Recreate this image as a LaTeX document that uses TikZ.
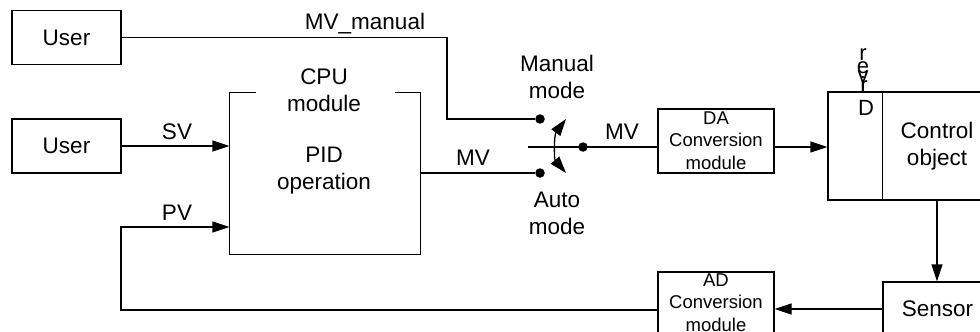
\documentclass[tikz,border=0pt]{standalone}
\usepackage{fontspec}
\setmainfont{Liberation Sans}
\usetikzlibrary{arrows.meta,calc}
\begin{document}
\begin{tikzpicture}[x=1pt,y=-1pt,
  line width=1.3pt,
  every node/.style={font=\fontsize{22.5}{27}\selectfont, align=center, inner sep=0pt},
  box/.style={draw, line width=1.3pt},
  arr/.style={-{Triangle[length=17pt,width=11pt]}},
  swarr/.style={{Triangle[length=17pt,width=11pt]}-{Triangle[length=17pt,width=11pt]}},
  dot/.style={circle, fill, minimum size=9.5pt, inner sep=0pt},
  small/.style={font=\fontsize{18.5}{22.5}\selectfont},
  letter/.style={anchor=base, font=\fontsize{22}{22}\selectfont}]
\useasboundingbox (0,0) rectangle (980,332);
\clip (0,0) rectangle (980,332);

% boxes
\node[box, minimum width=109pt, minimum height=54pt] (user1) at (66.5,37.5) {User};
\node[box, minimum width=109pt, minimum height=54pt] (user2) at (66.5,146) {User};
\node[minimum width=190pt, minimum height=161pt] (cpu) at (325,173.5) {};
\draw ($(cpu.north west)+(27,0)$) -- (cpu.north west) -- (cpu.south west) -- (cpu.south east) -- (cpu.north east) -- ($(cpu.north east)+(-26,0)$);
\node (cputxt) at (324,90) {CPU\\module};
\node (pidtxt) at (324,171) {PID\\operation};

\node[box, minimum width=116pt, minimum height=64pt] (da) at (716,141) {};
\node[small] (datxt) at (716,140.5) {DA\\Conversion\\module};
\node[box, minimum width=116pt, minimum height=76pt] (ad) at (716,310) {};
\node[small] (adtxt) at (716,302.5) {AD\\Conversion\\module};

\node[box, minimum width=164pt, minimum height=108pt] (drv) at (910,146) {};
\draw ($(drv.north west)+(55,0)$) -- ($(drv.south west)+(55,0)$);
\node (ctl) at (937,146.5) {Control\\object};
\node[box, minimum width=109pt, minimum height=54pt] (sensor) at (937.5,309) {Sensor};

% vertical "Driver" letters
\node[letter] (l1) at (863,60) {r};
\node[letter] (l2) at (863,73) {e};
\node[letter] (l3) at (863,82) {v};
\node[letter] (l4) at (863,92) {i};
\node[letter] (l5) at (864,92) {r};
\node[letter] (l6) at (866,115) {D};

% switch
\node[dot] (dotm) at (540,119) {};
\node[dot] (dota) at (540,173) {};
\node[dot] (dotc) at (583,147) {};
\coordinate (swl) at (528,147);
\coordinate (sw1) at (566,119);
\coordinate (sw2) at (566,173);
\draw[swarr] (sw1) .. controls (554,135) and (554,159) .. (sw2);

% connectors
\coordinate (mvc) at (447,37);
\draw (user1.east) -- (user1.east -| mvc) |- (dotm);
\draw[arr] (user2.east) -- (user2.east -| cpu.west);
\draw (cpu.east |- dota) -- (dota);
\draw (swl) -- (swl -| da.west);
\draw[arr] (da.east |- swl) -- (drv.west |- swl);
\draw[arr] (ctl |- drv.south) -- (ctl |- sensor.north);
\draw[arr] (sensor.west) -- (ad.east |- sensor.west);
\coordinate (pvl) at (121,227);
\draw[arr] (ad.west) -| (pvl) -- (pvl -| cpu.west);

% labels
\node (mvm) at (365,24) {MV\_manual};
\node (sv) at (177,132) {SV};
\node (pv) at (177,213) {PV};
\node (mv1) at (473,158) {MV};
\node (mv2) at (622,132) {MV};
\node (man) at (557,77) {Manual\\mode};
\node (auto) at (557,213.5) {Auto\\mode};
\end{tikzpicture}
\end{document}
